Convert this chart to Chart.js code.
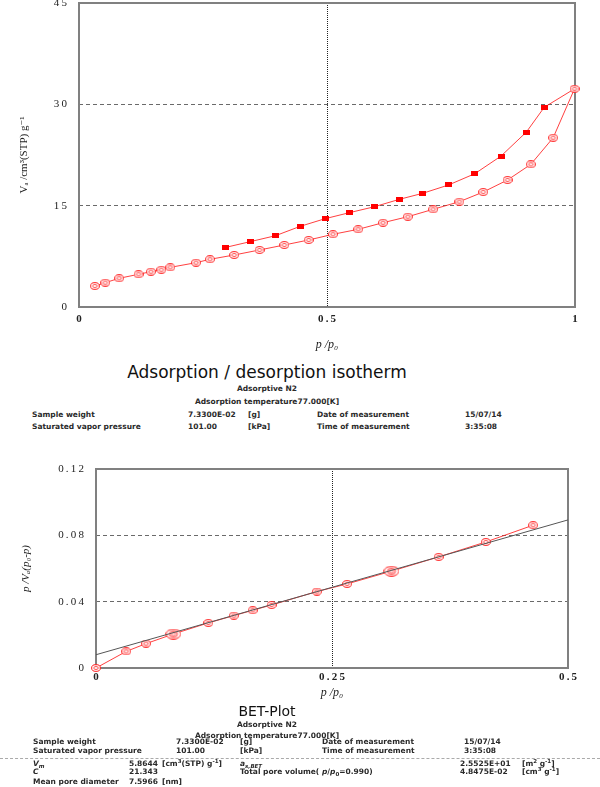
<!DOCTYPE html>
<html>
<head>
<meta charset="utf-8">
<script src="https://cdn.jsdelivr.net/npm/chart.js@4.4.1/dist/chart.umd.min.js"></script>
<style>
  html, body { margin: 0; padding: 0; background: #fff; }
  body { width: 600px; height: 787px; position: relative; overflow: hidden;
         font-family: 'DejaVu Sans', Verdana, sans-serif; color: #2a2a2a; }
  canvas { position: absolute; left: 0; }
  .t { position: absolute; white-space: nowrap; font-size: 7.5px; line-height: 8px; font-weight: bold; }
  .c { left: 0; width: 534px; text-align: center; }
  .title { font-size: 17px; line-height: 17px; font-weight: normal; color: #111; }
  .sm { font-size: 5.5px; line-height: 0; position: relative; }
  .up { top: -3px; }
  .dn { top: 2px; }
  .sep { position: absolute; left: 0; width: 600px; top: 758px; border-top: 1px dashed #aaa; }
</style>
</head>
<body>
<canvas id="iso" width="600" height="380" style="top:-20px"></canvas>
<canvas id="bet" width="600" height="270" style="top:440px"></canvas>

<div class="t c title" style="top:364px">Adsorption / desorption isotherm</div>
<div class="t c" style="top:385px">Adsorptive N2</div>
<div class="t c" style="top:398px">Adsorption temperature77.000[K]</div>
<div class="t" style="top:411px;left:32px">Sample weight</div>
<div class="t" style="top:411px;left:188px">7.3300E-02</div>
<div class="t" style="top:411px;left:248px">[g]</div>
<div class="t" style="top:411px;left:317px">Date of measurement</div>
<div class="t" style="top:411px;left:465px">15/07/14</div>
<div class="t" style="top:423px;left:32px">Saturated vapor pressure</div>
<div class="t" style="top:423px;left:188px">101.00</div>
<div class="t" style="top:423px;left:248px">[kPa]</div>
<div class="t" style="top:423px;left:317px">Time of measurement</div>
<div class="t" style="top:423px;left:465px">3:35:08</div>

<div class="t c title" style="top:704px;font-size:14px;line-height:14px">BET-Plot</div>
<div class="t c" style="top:721px">Adsorptive N2</div>
<div class="t c" style="top:732px">Adsorption temperature77.000[K]</div>
<div class="t" style="top:738px;left:33px">Sample weight</div>
<div class="t" style="top:738px;left:176px">7.3300E-02</div>
<div class="t" style="top:738px;left:240px">[g]</div>
<div class="t" style="top:738px;left:322px">Date of measurement</div>
<div class="t" style="top:738px;left:464px">15/07/14</div>
<div class="t" style="top:747px;left:33px">Saturated vapor pressure</div>
<div class="t" style="top:747px;left:176px">101.00</div>
<div class="t" style="top:747px;left:240px">[kPa]</div>
<div class="t" style="top:747px;left:322px">Time of measurement</div>
<div class="t" style="top:747px;left:464px">3:35:08</div>
<div class="sep"></div>
<div class="t" style="top:760px;left:33px"><i>V</i><span class="sm dn"><i>m</i></span></div>
<div class="t" style="top:760px;left:129px">5.8644</div>
<div class="t" style="top:760px;left:162px">[cm<span class="sm up">3</span>(STP) g<span class="sm up">-1</span>]</div>
<div class="t" style="top:760px;left:240px"><i>a</i><span class="sm dn"><i>s,BET</i></span></div>
<div class="t" style="top:760px;left:460px">2.5525E+01</div>
<div class="t" style="top:760px;left:522px">[m<span class="sm up">2</span> g<span class="sm up">-1</span>]</div>
<div class="t" style="top:768px;left:33px"><i>C</i></div>
<div class="t" style="top:768px;left:129px">21.343</div>
<div class="t" style="top:768px;left:240px">Total pore volume( <i>p</i>/<i>p</i><span class="sm dn">0</span>=0.990)</div>
<div class="t" style="top:768px;left:460px">4.8475E-02</div>
<div class="t" style="top:768px;left:522px">[cm<span class="sm up">3</span> g<span class="sm up">-1</span>]</div>
<div class="t" style="top:778px;left:33px">Mean pore diameter</div>
<div class="t" style="top:778px;left:129px">7.5966</div>
<div class="t" style="top:778px;left:162px">[nm]</div>

<script>
// adsorption branch (open circles)
const adsP = [0.032, 0.053, 0.081, 0.120, 0.145, 0.166, 0.184, 0.236, 0.264, 0.313, 0.364, 0.414,
              0.463, 0.512, 0.563, 0.613, 0.663, 0.714, 0.767, 0.815, 0.864, 0.911, 0.956, 0.999];
const adsV = [3.10, 3.60, 4.25, 4.84, 5.23, 5.52, 5.87, 6.56, 7.06, 7.70, 8.44, 9.18,
              9.92, 10.76, 11.50, 12.48, 13.37, 14.46, 15.59, 17.02, 18.80, 21.12, 25.06, 32.30];
// desorption branch (filled squares), starts from the top point
const desP = [0.999, 0.938, 0.902, 0.851, 0.798, 0.745, 0.693, 0.646, 0.596, 0.545, 0.496, 0.446, 0.396, 0.345, 0.296];
const desV = [32.30, 29.56, 25.90, 22.35, 19.73, 18.06, 16.83, 15.94, 14.85, 13.96, 13.07, 11.94, 10.55, 9.67, 8.83];

// BET plot
const betX = [0, 0.032, 0.053, 0.082, 0.119, 0.146, 0.166, 0.186, 0.234, 0.266, 0.313, 0.363, 0.413, 0.463];
const betY = [0, 0.0100, 0.0147, 0.0205, 0.0272, 0.0316, 0.0348, 0.0380, 0.0461, 0.0507, 0.0584, 0.0670, 0.0760, 0.0861];
const betBig = [3, 10];   // fit range markers
const fitX = [0, 0.5];
const fitY = [0.0080, 0.0893];

const isoYTicks = [0, 15, 30, 45];
const isoXTicks = [0, 0.5, 1];
const betYTicks = [0, 0.04, 0.08, 0.12];
const betXTicks = [0, 0.25, 0.5];

const serif = "'Liberation Serif', 'DejaVu Serif', serif";
const red = 'rgba(255, 30, 30, 0.85)';

function pts(xs, ys) {
    return xs.map((x, i) => ({ x: x, y: ys[i] }));
}

function spaced(v) {
    return String(+(+v).toFixed(3)).split('').join('\u2009');
}

function ringMarker(w, h, withInnerRing) {
    const c = document.createElement('canvas');
    c.width = w;
    c.height = h;
    const g = c.getContext('2d');
    g.lineWidth = 1;
    g.fillStyle = 'rgba(255, 245, 245, 0.9)';
    g.strokeStyle = '#ff2020';
    g.beginPath();
    g.ellipse(w / 2, h / 2, w / 2 - 0.6, h / 2 - 0.6, 0, 0, Math.PI * 2);
    g.fill();
    g.stroke();
    if (withInnerRing) {
        g.strokeStyle = '#ff4040';
        g.beginPath();
        g.ellipse(w / 2, h / 2, 4, 3, 0, 0, Math.PI * 2);
        g.stroke();
    }
    g.strokeStyle = '#ff6060';
    g.beginPath();
    g.ellipse(w / 2, h / 2, 2.2, 1.6, 0, 0, Math.PI * 2);
    g.stroke();
    return c;
}

function squareMarker() {
    const c = document.createElement('canvas');
    c.width = 7;
    c.height = 5;
    const g = c.getContext('2d');
    g.fillStyle = '#ff0000';
    g.fillRect(0, 0, 7, 5);
    return c;
}

const ring = ringMarker(10, 8, false);
const bigRing = ringMarker(16, 11, true);
const square = squareMarker();

const framePlugin = {
    id: 'frame',
    beforeDatasetsDraw(chart) {
        const { ctx, chartArea: a } = chart;
        ctx.save();
        ctx.strokeStyle = '#808080';
        ctx.lineWidth = 2;
        ctx.strokeRect(a.left, a.top, a.right - a.left, a.bottom - a.top);
        ctx.restore();
    }
};

function innerOnly(values, lineColor) {
    return ctx => {
        if (!ctx.tick) return 'rgba(0,0,0,0)';
        const v = ctx.tick.value;
        const inner = values.slice(1, -1).some(t => Math.abs(t - v) < 1e-9);
        return inner ? lineColor : 'rgba(0,0,0,0)';
    };
}

function axis(opts) {
    return {
        type: 'linear',
        min: opts.ticks[0],
        max: opts.ticks[opts.ticks.length - 1],
        afterBuildTicks: s => { s.ticks = opts.ticks.map(v => ({ value: v })); },
        ticks: {
            padding: opts.tickPad,
            color: '#222',
            maxRotation: 0,
            autoSkip: false,
            font: { family: serif, size: 11, weight: opts.bold ? 'bold' : 'normal' },
            callback: v => spaced(v)
        },
        grid: { drawTicks: false, lineWidth: 1, color: innerOnly(opts.ticks, opts.gridColor) },
        border: { display: false, dash: opts.dash },
        title: {
            display: true,
            text: opts.title,
            color: '#222',
            font: { family: serif, size: opts.titleSize, style: opts.italic ? 'italic' : 'normal' },
            padding: opts.titlePad
        },
        afterFit: opts.fit
    };
}

const common = {
    responsive: false,
    animation: false,
    events: [],
    plugins: { legend: { display: false }, tooltip: { enabled: false } }
};

new Chart(document.getElementById('iso').getContext('2d'), {
    type: 'scatter',
    data: {
        datasets: [{
            label: 'Adsorption',
            data: pts(adsP, adsV),
            showLine: true,
            borderColor: red,
            borderWidth: 1,
            pointStyle: ring,
            pointRadius: 4,
            clip: false
        }, {
            label: 'Desorption',
            data: pts(desP, desV),
            showLine: true,
            borderColor: red,
            borderWidth: 1,
            pointStyle: square,
            pointRadius: ctx => ctx.dataIndex === 0 ? 0 : 4,
            clip: false
        }]
    },
    options: Object.assign({}, common, {
        layout: { padding: { top: 23, right: 25, left: 0, bottom: 0 } },
        scales: {
            x: axis({ ticks: isoXTicks, tickPad: 6, bold: true, gridColor: '#222', dash: [1, 1],
                      title: 'p /p\u2080', titleSize: 12, italic: true, titlePad: { top: 2, bottom: 8 },
                      fit: s => { s.height = 53; } }),
            y: axis({ ticks: isoYTicks, tickPad: 12, gridColor: '#6a6a6a', dash: [4, 3],
                      title: 'V\u2090 /cm\u00b3(STP) g\u207b\u00b9', titleSize: 11, italic: false,
                      titlePad: { top: 18, bottom: 0 },
                      fit: s => { s.width = 79; } })
        }
    }),
    plugins: [framePlugin]
});

new Chart(document.getElementById('bet').getContext('2d'), {
    type: 'scatter',
    data: {
        datasets: [{
            label: 'BET fit',
            data: pts(fitX, fitY),
            showLine: true,
            borderColor: '#555',
            borderWidth: 1,
            pointRadius: 0,
            clip: false
        }, {
            label: 'BET',
            data: pts(betX, betY),
            showLine: true,
            borderColor: red,
            borderWidth: 1,
            pointStyle: ctx => betBig.includes(ctx.dataIndex) ? bigRing : ring,
            pointRadius: 4,
            clip: false
        }]
    },
    options: Object.assign({}, common, {
        layout: { padding: { top: 29, right: 32, left: 0, bottom: 0 } },
        scales: {
            x: axis({ ticks: betXTicks, tickPad: 3, bold: true, gridColor: '#222', dash: [1, 1],
                      title: 'p /p\u2080', titleSize: 12, italic: true, titlePad: { top: 2, bottom: 10 },
                      fit: s => { s.height = 42; } }),
            y: axis({ ticks: betYTicks, tickPad: 12, gridColor: '#6a6a6a', dash: [4, 3],
                      title: 'p /V\u2090(p\u2080-p)', titleSize: 11, italic: true,
                      titlePad: { top: 20, bottom: 0 },
                      fit: s => { s.width = 96; } })
        }
    }),
    plugins: [framePlugin]
});
</script>
</body>
</html>
